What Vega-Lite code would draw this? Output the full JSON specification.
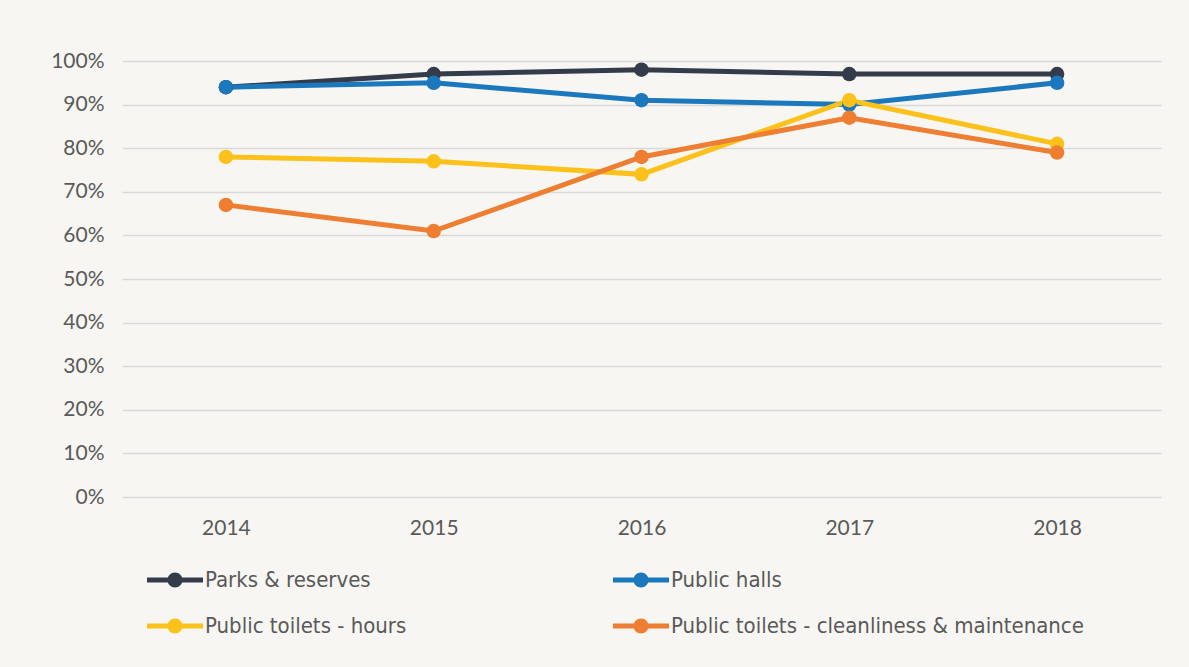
{
  "$schema": "https://vega.github.io/schema/vega-lite/v6.json",
  "width": 1039,
  "height": 436,
  "autosize": {"type": "none"},
  "padding": {"left": 122, "top": 61, "right": 28, "bottom": 170},
  "background": "#f7f6f2",
  "data": {"values": [
    {"year": "2014", "series": "Parks & reserves", "value": 0.94},
    {"year": "2015", "series": "Parks & reserves", "value": 0.97},
    {"year": "2016", "series": "Parks & reserves", "value": 0.98},
    {"year": "2017", "series": "Parks & reserves", "value": 0.97},
    {"year": "2018", "series": "Parks & reserves", "value": 0.97},
    {"year": "2014", "series": "Public halls", "value": 0.94},
    {"year": "2015", "series": "Public halls", "value": 0.95},
    {"year": "2016", "series": "Public halls", "value": 0.91},
    {"year": "2017", "series": "Public halls", "value": 0.90},
    {"year": "2018", "series": "Public halls", "value": 0.95},
    {"year": "2014", "series": "Public toilets - hours", "value": 0.78},
    {"year": "2015", "series": "Public toilets - hours", "value": 0.77},
    {"year": "2016", "series": "Public toilets - hours", "value": 0.74},
    {"year": "2017", "series": "Public toilets - hours", "value": 0.91},
    {"year": "2018", "series": "Public toilets - hours", "value": 0.81},
    {"year": "2014", "series": "Public toilets - cleanliness & maintenance", "value": 0.67},
    {"year": "2015", "series": "Public toilets - cleanliness & maintenance", "value": 0.61},
    {"year": "2016", "series": "Public toilets - cleanliness & maintenance", "value": 0.78},
    {"year": "2017", "series": "Public toilets - cleanliness & maintenance", "value": 0.87},
    {"year": "2018", "series": "Public toilets - cleanliness & maintenance", "value": 0.79}
  ]},
  "encoding": {
    "x": {"field": "year", "type": "ordinal", "scale": {"type": "point", "padding": 0.5},
      "axis": {"title": null, "labelAngle": 0, "domain": false, "ticks": false, "labelPadding": 20,
        "labelFont": "Lato", "labelFontSize": 21, "labelColor": "#5a5a5a"}},
    "y": {"field": "value", "type": "quantitative", "scale": {"domain": [0, 1], "nice": false},
      "axis": {"title": null, "format": ".0%", "values": [0,0.1,0.2,0.3,0.4,0.5,0.6,0.7,0.8,0.9,1],
        "labelOverlap": false, "domain": false, "ticks": false, "labelPadding": 18, "labelFont": "Lato",
        "labelFontSize": 21, "labelColor": "#5a5a5a", "gridColor": "#d9d9d9", "gridWidth": 1.5}},
    "color": {"field": "series", "type": "nominal",
      "scale": {"domain": ["Parks & reserves", "Public halls", "Public toilets - hours", "Public toilets - cleanliness & maintenance"],
        "range": ["#343b4b", "#1b78bd", "#fdc11c", "#ee7e32"]},
      "legend": {"title": null, "orient": "none", "legendX": 25, "legendY": 491, "columns": 2, "direction": "horizontal",
        "columnPadding": 206, "rowPadding": 7, "symbolSize": 3136,
        "symbolType": "M-1,-0.09H1V0.09H-1Z M-0.268,0A0.268,0.268 0 1,1 0.268,0A0.268,0.268 0 1,1 -0.268,0Z",
        "symbolStrokeWidth": 0, "labelOffset": 2, "labelFont": "DejaVu Sans Condensed", "labelFontWeight": 300, "labelFontSize": 22,
        "labelColor": "#595959", "labelLimit": 500,
        "encode": {"symbols": {"update": {"fill": {"scale": "color", "field": "value"}, "opacity": {"value": 1}}}}}}
  },
  "layer": [
    {"mark": {"type": "line", "strokeWidth": 5}},
    {"mark": {"type": "point", "filled": true, "size": 210, "opacity": 1}}
  ],
  "config": {"view": {"stroke": null}}
}
